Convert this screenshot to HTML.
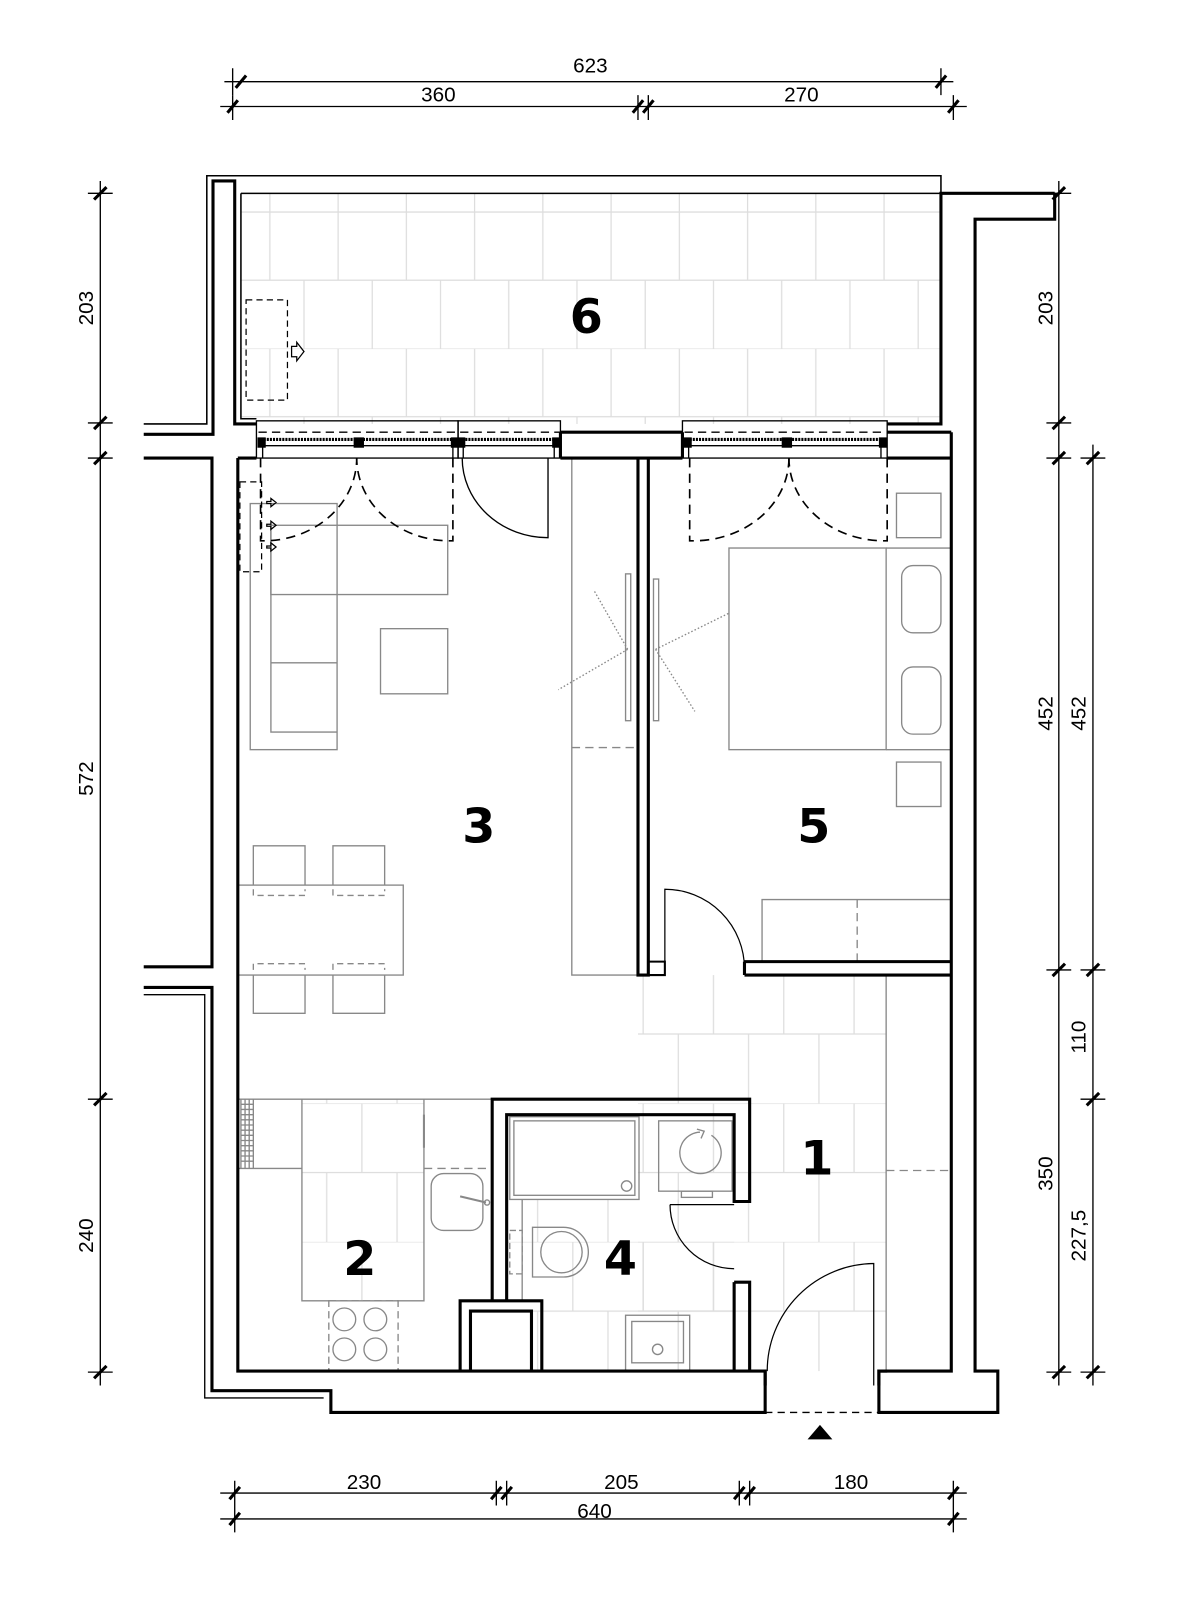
<!DOCTYPE html>
<html><head><meta charset="utf-8"><style>
html,body{margin:0;padding:0;background:#fff;}
svg{display:block;}
.dt{font-family:"Liberation Sans Narrow","Liberation Sans",sans-serif;font-size:20px;fill:#000;}
.lb{font-family:"DejaVu Sans","Liberation Sans",sans-serif;font-size:46px;fill:#000;font-weight:bold;}
</style></head><body>
<svg width="1196" height="1614" viewBox="0 0 1196 1614" xmlns="http://www.w3.org/2000/svg">
<defs>
<pattern id="tb" x="233" y="205" width="132" height="132" patternUnits="userSpaceOnUse">
<path d="M0,0H132M0,66H132M28,0V66M94,0V66M61,66V132M127,66V132" stroke="#ddd" stroke-width="1.2" fill="none"/>
</pattern>
<pattern id="th" x="617" y="933" width="136" height="134" patternUnits="userSpaceOnUse">
<path d="M0,0H136M0,67H136M5,0V67M73,0V67M39,67V134M107,67V134" stroke="#ddd" stroke-width="1.2" fill="none"/>
</pattern>
</defs>
<g transform="scale(1.034)">
<!-- floor tiles -->
<rect x="233" y="187" width="677" height="223" fill="url(#tb)"/>
<rect x="233" y="187" width="677" height="18" fill="#fff"/>
<path d="M233,205H910M261,187V205M327,187V205M393,187V205M459,187V205M525,187V205M591,187V205M657,187V205M723,187V205M789,187V205M855,187V205" stroke="#ddd" stroke-width="1.2"/>
<rect x="617" y="943" width="240" height="383" fill="url(#th)"/>
<rect x="490" y="1160" width="220" height="166" fill="url(#th)"/>
<rect x="292" y="1063" width="118" height="195" fill="url(#th)"/>

<!-- dimension lines -->
<g stroke="#000" stroke-width="1.3" fill="none">
<path d="M217,79H922M225,66V92M910,66V92"/>
<path d="M213,103H935M225,92V116M617,92V116M627,92V116M922,92V116"/>
<path d="M213,1444H935M227,1432V1456M480,1432V1456M490,1432V1456M715,1432V1456M725,1432V1456M922,1432V1456"/>
<path d="M213,1469H935M227,1456V1482M922,1456V1482"/>
<path d="M97,175V1340M85,187H109M85,409H109M85,443H109M85,1063H109M85,1327H109"/>
<path d="M1024,175V1340M1012,187H1036M1012,409H1036M1012,443H1036M1012,938H1036M1012,1327H1036"/>
<path d="M1057,430V1340M1045,443H1069M1045,938H1069M1045,1063H1069M1045,1327H1069"/>
</g>
<g stroke="#000" stroke-width="3">
<path d="M228,85l10,-12M220,109l10,-12M612,109l10,-12M622,109l10,-12M905,85l10,-12M917,109l10,-12"/>
<path d="M222,1450l10,-12M475,1450l10,-12M485,1450l10,-12M710,1450l10,-12M720,1450l10,-12M917,1450l10,-12M222,1475l10,-12M917,1475l10,-12"/>
<path d="M91,193l12,-12M91,415l12,-12M91,449l12,-12M91,1069l12,-12M91,1333l12,-12"/>
<path d="M1018,193l12,-12M1018,415l12,-12M1018,449l12,-12M1018,944l12,-12M1018,1333l12,-12"/>
<path d="M1051,449l12,-12M1051,944l12,-12M1051,1069l12,-12M1051,1333l12,-12"/>
</g>
<text class="dt" x="571" y="70" text-anchor="middle">623</text>
<text class="dt" x="424" y="98" text-anchor="middle">360</text>
<text class="dt" x="775" y="98" text-anchor="middle">270</text>
<text class="dt" x="352" y="1440" text-anchor="middle">230</text>
<text class="dt" x="601" y="1440" text-anchor="middle">205</text>
<text class="dt" x="823" y="1440" text-anchor="middle">180</text>
<text class="dt" x="575" y="1468" text-anchor="middle">640</text>
<text class="dt" transform="translate(90,298) rotate(-90)" text-anchor="middle">203</text>
<text class="dt" transform="translate(90,753) rotate(-90)" text-anchor="middle">572</text>
<text class="dt" transform="translate(90,1195) rotate(-90)" text-anchor="middle">240</text>
<text class="dt" transform="translate(1018,298) rotate(-90)" text-anchor="middle">203</text>
<text class="dt" transform="translate(1018,690) rotate(-90)" text-anchor="middle">452</text>
<text class="dt" transform="translate(1018,1135) rotate(-90)" text-anchor="middle">350</text>
<text class="dt" transform="translate(1050,690) rotate(-90)" text-anchor="middle">452</text>
<text class="dt" transform="translate(1050,1003) rotate(-90)" text-anchor="middle">110</text>
<text class="dt" transform="translate(1050,1195) rotate(-90)" text-anchor="middle">227,5</text>

<!-- furniture gray -->
<g stroke="#888" stroke-width="1.3" fill="none">
<rect x="242" y="487" width="84" height="238"/>
<rect x="262" y="508" width="171" height="67"/>
<path d="M262,508V708H326M262,641H326"/>
<rect x="368" y="608" width="65" height="63"/>
<rect x="230" y="856" width="160" height="87"/>
<path d="M245,856V818H295V856M322,856V818H372V856M245,943V980H295V943M322,943V980H372V943"/>
<path d="M245,860V866H295V860M322,860V866H372V860M245,938V932H295V938M322,938V932H372V938" stroke-dasharray="6,4"/>
<path d="M553,443V943H617"/>
<path d="M553,723H617" stroke-dasharray="8,5"/>
<rect x="605" y="555" width="5" height="142"/>
<rect x="632" y="560" width="5" height="137"/>
<path d="M607,628L575,572M607,628L540,667M634,628L705,593M634,628L672,688" stroke-dasharray="1.5,2"/>
<rect x="705" y="530" width="152" height="195"/>
<path d="M857,530H920M857,725H920"/>
<rect x="872" y="547" width="38" height="65" rx="11"/>
<rect x="872" y="645" width="38" height="65" rx="11"/>
<rect x="867" y="477" width="43" height="43"/>
<rect x="867" y="737" width="43" height="43"/>
<path d="M737,930V870H920"/>
<path d="M829,870V930" stroke-dasharray="8,5"/>
<path d="M857,943V1326"/>
<path d="M857,1132H920" stroke-dasharray="8,5"/>
<path d="M230,1063H476M230,1130H292M292,1063V1258H410V1063M410,1063V1130"/>
<path d="M233,1063V1130M237,1063V1130M241,1063V1130M233,1068H245M233,1073H245M233,1078H245M233,1083H245M233,1088H245M233,1093H245M233,1098H245M233,1103H245M233,1108H245M233,1113H245M233,1118H245M233,1123H245M245,1063V1130"/>
<path d="M410,1078V1110" stroke-width="2"/>
<path d="M410,1130H476" stroke-dasharray="8,5"/>
<rect x="417" y="1135" width="50" height="55" rx="12"/>
<path d="M445,1157L470,1163" stroke-width="2"/>
<circle cx="471" cy="1163" r="2.5"/>
<rect x="318" y="1258" width="67" height="68" stroke-dasharray="7,4"/>
<circle cx="333" cy="1276" r="11"/><circle cx="363" cy="1276" r="11"/>
<circle cx="333" cy="1305" r="11"/><circle cx="363" cy="1305" r="11"/>
<rect x="493" y="1080" width="125" height="80"/>
<rect x="497" y="1084" width="117" height="72"/>
<circle cx="606" cy="1147" r="5"/>
<rect x="637" y="1084" width="71" height="68"/>
<rect x="659" y="1152" width="30" height="6"/>
<path d="M688,1098A20,20 0 1 1 677,1095M674,1092l7,2l-3,7"/>
<path d="M505,1160V1258"/>
<path d="M515,1187H545A24,24 0 0 1 545,1235H515Z"/>
<circle cx="543" cy="1211" r="20"/>
<rect x="493" y="1190" width="12" height="42" stroke-dasharray="6,3"/>
<rect x="605" y="1272" width="62" height="54"/>
<rect x="611" y="1278" width="50" height="40"/>
<circle cx="636" cy="1305" r="5"/>
</g>

<g stroke="#000" stroke-width="1.2" fill="none">
<rect x="238" y="290" width="40" height="97" stroke-dasharray="6,4"/>
<path d="M282,335h5v-4l7,9l-7,9v-4h-5z"/>
<rect x="232" y="466" width="21" height="87" stroke-dasharray="6,4"/>
<path d="M258,485h4v-3l5,4l-5,4v-3h-4zM258,507h4v-3l5,4l-5,4v-3h-4zM258,528h4v-3l5,4l-5,4v-3h-4z"/>
</g>

<g stroke="#000" fill="none" stroke-linejoin="miter">
<path d="M205,170H910V187H233" stroke-width="1.5"/>
<path d="M139,410H200V170H206" stroke-width="1.5"/>
<path d="M139,420H206V175H227V410H248" stroke-width="3"/>
<path d="M233,187V405H248" stroke-width="1.5"/>
<path d="M1020,187H910V410H858" stroke-width="3"/>
<path d="M1020,187V212H943V1326H965V1366H850V1326H858" stroke-width="3"/>
<path d="M920,418V1326H850V1340" stroke-width="3"/>
<path d="M858,418H920" stroke-width="3"/>
<path d="M139,443H205V935H139" stroke-width="3"/>
<path d="M230,443V1326H740V1340" stroke-width="3"/>
<path d="M230,443H248M542,443H660M858,443H920" stroke-width="3"/>
<path d="M542,418H660" stroke-width="3"/>
<path d="M542,418V443M660,418V443" stroke-width="3"/>
<path d="M139,955H205V1345H320V1366H740V1326" stroke-width="3"/>
<path d="M139,962H198V1352H313" stroke-width="1.3"/>
<g stroke-width="1.3">
<rect x="248" y="407" width="195" height="36"/>
<rect x="443" y="407" width="99" height="36"/>
<rect x="660" y="407" width="198" height="36"/>
<path d="M250,418H542M662,418H856" stroke-dasharray="8,5"/>
<path d="M252,425H540M664,425H854" stroke-width="3" stroke-dasharray="2,1"/>
<path d="M252,431H540M664,431H854"/>
<path d="M254,431V443M438,431V443M448,431V443M536,431V443M666,431V443M852,431V443"/>
</g>
<g fill="#000" stroke="none">
<rect x="249" y="423" width="8" height="10"/><rect x="342" y="423" width="10" height="10"/><rect x="436" y="423" width="14" height="10"/><rect x="534" y="423" width="8" height="10"/>
<rect x="661" y="423" width="8" height="10"/><rect x="756" y="423" width="10" height="10"/><rect x="850" y="423" width="8" height="10"/>
</g>
<path d="M617,443V943H627V443" stroke-width="3"/>
<path d="M627,943H643V930H627" stroke-width="2"/>
<path d="M643,930V860A77,77 0 0 1 720,937" stroke-width="1.2"/>
<path d="M720,930H920M720,943H920M720,930V943" stroke-width="3"/>
<path d="M476,1258V1063H725V1162H710V1078H490V1258" stroke-width="3"/>
<path d="M445,1326V1258H524V1326M455,1326V1268H514V1326" stroke-width="3"/>
<path d="M710,1240H725V1326M710,1240V1326" stroke-width="3"/>
<path d="M648,1165H710M648,1165A62,62 0 0 0 710,1227" stroke-width="1.2"/>
<path d="M845,1340V1222A104,104 0 0 0 742,1326" stroke-width="1.2"/>
<path d="M740,1366H850" stroke-width="1.3" stroke-dasharray="7,5"/>
</g>
<g stroke="#000" stroke-width="1.6" fill="none" stroke-dasharray="9,6">
<path d="M252,443V523H258A90,80 0 0 0 345,443"/>
<path d="M438,443V523H432A90,80 0 0 1 345,443"/>
<path d="M667,443V523H672A92,80 0 0 0 763,443"/>
<path d="M858,443V523H853A92,80 0 0 1 763,443"/>
</g>
<path d="M530,443V520A83,77 0 0 1 447,443" stroke="#000" stroke-width="1.3" fill="none"/>
<path d="M793,1378L781,1392H805Z" fill="#000"/>

<text class="lb" x="567" y="322" text-anchor="middle">6</text>
<text class="lb" x="463" y="815" text-anchor="middle">3</text>
<text class="lb" x="787" y="815" text-anchor="middle">5</text>
<text class="lb" x="790" y="1136" text-anchor="middle">1</text>
<text class="lb" x="348" y="1233" text-anchor="middle">2</text>
<text class="lb" x="600" y="1233" text-anchor="middle">4</text>
</g>
</svg>
</body></html>
